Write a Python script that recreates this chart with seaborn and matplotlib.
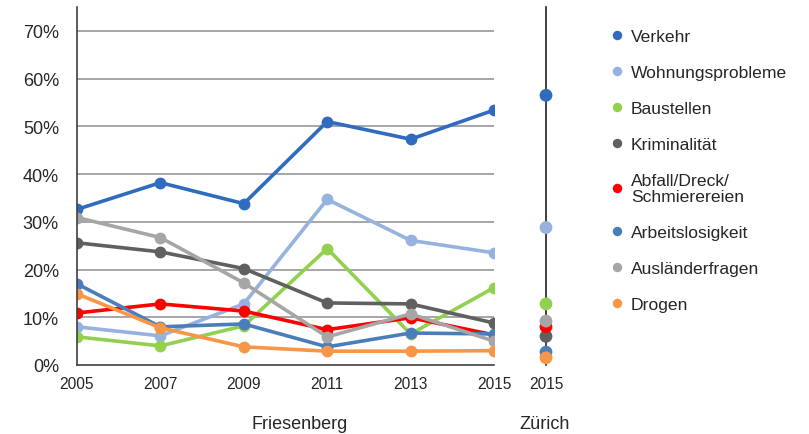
import numpy as np
import pandas as pd
import matplotlib.pyplot as plt
from matplotlib.lines import Line2D
from matplotlib.ticker import PercentFormatter
import seaborn as sns

years = [2005, 2007, 2009, 2011, 2013, 2015]
categories = ["Verkehr", "Wohnungsprobleme", "Baustellen", "Kriminalität",
              "Abfall/Dreck/\nSchmierereien", "Arbeitslosigkeit",
              "Ausländerfragen", "Drogen"]

verkehr = [32.6, 38.2, 33.8, 51.0, 47.3, 53.4]
wohnung = [8.0, 6.1, 12.8, 34.7, 26.1, 23.5]
baustellen = [5.9, 4.0, 8.2, 24.4, 6.5, 16.2]
kriminalitaet = [25.6, 23.7, 20.2, 13.0, 12.8, 8.8]
abfall = [10.9, 12.8, 11.3, 7.4, 9.9, 6.3]
arbeitslos = [17.0, 8.0, 8.6, 3.8, 6.7, 6.5]
auslaender = [30.9, 26.7, 17.2, 5.9, 10.7, 5.0]
drogen = [14.9, 7.8, 3.8, 2.9, 2.9, 3.0]

zuerich_2015 = [56.5, 28.8, 12.8, 6.0, 8.0, 2.7, 9.2, 1.5]

colors = ["#2F6BBF", "#95B3DE", "#92D050", "#606060",
          "#FF0000", "#4A7EBB", "#A6A6A6", "#F79646"]
palette = dict(zip(categories, colors))

series = [verkehr, wohnung, baustellen, kriminalitaet, abfall, arbeitslos, auslaender, drogen]
df = pd.DataFrame(
    [(y, c, v) for c, vals in zip(categories, series) for y, v in zip(years, vals)],
    columns=["Jahr", "Thema", "Anteil"],
)
df_z = pd.DataFrame({"x": [0] * len(categories), "Thema": categories, "Anteil": zuerich_2015})

sns.set_style("white")
plt.rcParams["font.family"] = ["Liberation Sans", "DejaVu Sans"]

W, H = 809, 435
fig = plt.figure(figsize=(W / 100, H / 100), dpi=100)

# Friesenberg
ax = fig.add_axes([77 / W, (H - 366) / H, (494 - 77) / W, (366 - 8) / H])
for yv in range(10, 80, 10):
    ax.axhline(yv, color="#A6A6A6", lw=1.4, zorder=0)
sns.lineplot(data=df, x="Jahr", y="Anteil", hue="Thema", palette=palette,
             marker="o", markersize=8.5, markeredgewidth=0, linewidth=2.6,
             legend=False, ax=ax)
ax.set_xlim(2005, 2015)
ax.set_ylim(0, 75)
ax.set_xticks(years)
ax.set_yticks(range(0, 80, 10))
ax.yaxis.set_major_formatter(PercentFormatter(decimals=0))
for s in ["top", "right"]:
    ax.spines[s].set_visible(False)
for s in ["left", "bottom"]:
    ax.spines[s].set_color("#404040")
    ax.spines[s].set_linewidth(1.2)
ax.tick_params(axis="both", direction="out", length=5, width=1.2, color="#404040")
ax.tick_params(axis="x", labelsize=11.2, pad=3)
ax.tick_params(axis="y", labelsize=13, pad=8)
ax.set_xlabel("")
ax.set_ylabel("")

# Zürich
ax2 = fig.add_axes([526 / W, (H - 366) / H, 40 / W, (366 - 8) / H])
ax2.set_xlim(-1, 1)
ax2.set_ylim(0, 75)
sns.scatterplot(data=df_z, x="x", y="Anteil", hue="Thema", palette=palette,
                s=85, linewidth=0, legend=False, ax=ax2, zorder=3)
for s in ["top", "right", "bottom"]:
    ax2.spines[s].set_visible(False)
ax2.spines["left"].set_position(("data", 0))
ax2.spines["left"].set_color("#202020")
ax2.spines["left"].set_linewidth(1.2)
ax2.set_yticks(range(0, 80, 10))
ax2.set_yticklabels([])
ax2.tick_params(axis="y", direction="inout", length=10, width=1.2, color="#202020")
ax2.set_xticks([0])
ax2.set_xticklabels(["2015"])
ax2.tick_params(axis="x", length=0, labelsize=11.2, pad=8)
ax2.set_xlabel("")
ax2.set_ylabel("")

fig.text(300 / W, 1 - 425 / H, "Friesenberg", ha="center", va="center", fontsize=13)
fig.text(545 / W, 1 - 425 / H, "Zürich", ha="center", va="center", fontsize=13)

handles = [Line2D([], [], marker="o", color=c, linestyle="", markersize=6.8,
                  markeredgewidth=0) for c in colors]
leg = fig.legend(handles, categories, loc="upper left", bbox_to_anchor=(602 / W, 1 - 23 / H),
                 frameon=False, fontsize=12.6, handletextpad=0.35, labelspacing=1.19,
                 handlelength=0.9, borderaxespad=0)
for t in leg.get_texts():
    t.set_linespacing(1.05)

fig.savefig("out.png", dpi=100)
